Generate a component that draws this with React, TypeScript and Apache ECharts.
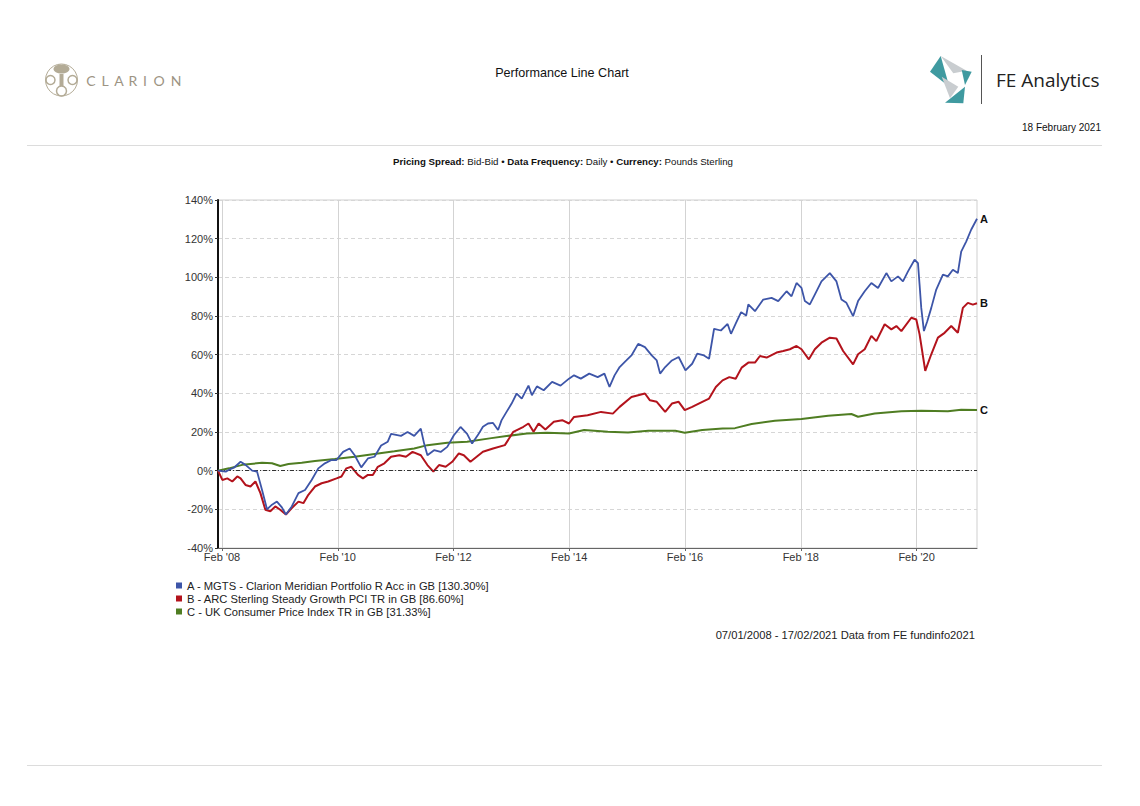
import React, { useEffect, useRef } from 'react';
import * as echarts from 'echarts';

// ---- Data (x = fractional calendar year, y = cumulative % performance) ----
const seriesNames = [
  'A - MGTS - Clarion Meridian Portfolio R Acc in GB [130.30%]',
  'B - ARC Sterling Steady Growth PCI TR in GB [86.60%]',
  'C - UK Consumer Price Index TR in GB [31.33%]',
];
const endTags = ['A', 'B', 'C'];
const seriesColors = ['#3d55a8', '#b3131c', '#4f7d22'];

const aYears = [
  2008.016, 2008.15, 2008.206, 2008.291, 2008.406, 2008.491, 2008.606, 2008.691, 2008.777, 2008.863,
  2008.949, 2009.034, 2009.12, 2009.189, 2009.291, 2009.406, 2009.52, 2009.634, 2009.749, 2009.863,
  2009.977, 2010.063, 2010.177, 2010.291, 2010.377, 2010.491, 2010.606, 2010.72, 2010.834, 2010.949,
  2011.006, 2011.177, 2011.291, 2011.406, 2011.52, 2011.577, 2011.634, 2011.749, 2011.863, 2011.977,
  2012.091, 2012.206, 2012.32, 2012.406, 2012.506, 2012.593, 2012.68, 2012.768, 2012.855, 2012.914,
  2013.001, 2013.089, 2013.176, 2013.264, 2013.38, 2013.439, 2013.526, 2013.643, 2013.788, 2013.934,
  2014.08, 2014.167, 2014.284, 2014.43, 2014.576, 2014.692, 2014.78, 2014.867, 2014.955, 2015.071,
  2015.159, 2015.275, 2015.392, 2015.509, 2015.596, 2015.654, 2015.742, 2015.858, 2015.975, 2016.092,
  2016.208, 2016.296, 2016.412, 2016.5, 2016.587, 2016.704, 2016.82, 2016.879, 2016.96, 2017.054,
  2017.141, 2017.178, 2017.293, 2017.436, 2017.58, 2017.695, 2017.839, 2017.925, 2018.011, 2018.097,
  2018.155, 2018.241, 2018.327, 2018.442, 2018.586, 2018.701, 2018.787, 2018.873, 2018.988, 2019.074,
  2019.189, 2019.304, 2019.419, 2019.563, 2019.649, 2019.764, 2019.85, 2019.937, 2020.051, 2020.109,
  2020.137, 2020.166, 2020.212, 2020.27, 2020.339, 2020.425, 2020.54, 2020.626, 2020.712, 2020.798,
  2020.856, 2020.942, 2021.028, 2021.129,
];
const aValues = [
  0, -0.5, 0.5, 1.5, 4.6, 3, 0, -0.5, -10, -20,
  -17.6, -16, -19, -22.7, -18.5, -11.6, -10, -4.8, 1.2, 3.8,
  5.5, 5.5, 9.7, 11.5, 8, 1.7, 6.3, 7.2, 13, 15,
  19, 18, 20, 18, 21.7, 14, 8, 10.6, 9.7, 12.3,
  18.3, 22.6, 19, 14, 18.4, 22.7, 24.4, 24.7, 21, 26,
  30.4, 34.7, 39.9, 37.3, 44, 39, 43.6, 41.6, 45.9, 44,
  47.6, 49.3, 47.6, 50.2, 48.4, 50.2, 43.3, 49.3, 53.6, 57,
  59.6, 65.6, 63.9, 59.6, 57, 50.2, 53.6, 57, 58.8, 51.9,
  55.3, 60.5, 59.6, 57.9, 73.4, 72.5, 75.9, 70.8, 76, 82,
  80.2, 86, 82.5, 88.5, 89.4, 87.7, 92.8, 90.2, 97.1, 94.5,
  87.7, 86, 91.1, 97.9, 102.2, 97.9, 88.5, 86.8, 79.9, 87.7,
  92.8, 97.1, 94.5, 102.2, 97.9, 100.5, 97.9, 103.1, 109.1, 107.4,
  96.2, 84.2, 72.2, 77.3, 84.2, 93.7, 101.4, 100.5, 103.9, 102.2,
  113.3, 118.5, 124.6, 130.3,
];

const bYears = [
  2008.016, 2008.091, 2008.177, 2008.263, 2008.349, 2008.406, 2008.491, 2008.577, 2008.663, 2008.749,
  2008.834, 2008.92, 2009.006, 2009.091, 2009.189, 2009.291, 2009.406, 2009.491, 2009.577, 2009.691,
  2009.806, 2009.92, 2010.063, 2010.149, 2010.234, 2010.32, 2010.434, 2010.52, 2010.606, 2010.691,
  2010.777, 2010.891, 2011.006, 2011.149, 2011.263, 2011.377, 2011.52, 2011.634, 2011.737, 2011.834,
  2011.949, 2012.063, 2012.177, 2012.263, 2012.377, 2012.593, 2012.768, 2012.972, 2013.118, 2013.293,
  2013.38, 2013.468, 2013.555, 2013.672, 2013.818, 2013.963, 2014.08, 2014.167, 2014.401, 2014.634,
  2014.838, 2014.955, 2015.159, 2015.392, 2015.479, 2015.596, 2015.742, 2015.858, 2015.975, 2016.08,
  2016.208, 2016.383, 2016.5, 2016.617, 2016.733, 2016.85, 2016.96, 2017.063, 2017.178, 2017.293,
  2017.379, 2017.494, 2017.666, 2017.781, 2017.896, 2018.011, 2018.097, 2018.224, 2018.327, 2018.442,
  2018.586, 2018.701, 2018.816, 2018.988, 2019.074, 2019.189, 2019.304, 2019.39, 2019.534, 2019.649,
  2019.736, 2019.822, 2019.994, 2020.08, 2020.137, 2020.235, 2020.339, 2020.454, 2020.569, 2020.684,
  2020.798, 2020.885, 2020.971, 2021.057, 2021.129,
];
const bValues = [
  0, -4.8, -4, -5.6, -3, -4, -7.4, -8.2, -5.6, -11.6,
  -20.2, -21, -18.5, -20.2, -22.7, -19.3, -16, -16.8, -12.5, -8.2,
  -6.5, -5.6, -4, -3, 1.2, 2, -2.2, -4, -2.2, -2.2,
  2, 3.8, 7.2, 8, 7.2, 9.7, 8, 2.9, -0.5, 2.9,
  2, 4.6, 8.9, 8, 4.6, 9.8, 11.5, 13.2, 20.1, 22.7,
  24.4, 20.1, 24.4, 21.3, 25.3, 26.1, 24.4, 27.8, 28.7, 30.4,
  29.5, 33, 38.1, 39.9, 36.4, 35.6, 30.4, 34.7, 35.6, 31.3,
  33, 35.6, 37.3, 43.3, 46.7, 48.4, 47.5, 53.3, 55.9, 55.9,
  59.3, 58.5, 61.1, 61.9, 62.8, 64.5, 62.8, 57.6, 62.8, 66.2,
  68.8, 68.4, 61.9, 55, 60.2, 62.8, 69.7, 67, 75.7, 73.1,
  74.8, 72.2, 79.1, 78.2, 70.5, 51.6, 60.2, 68.8, 71.3, 74.8,
  71.3, 84.2, 86.8, 85.9, 86.6,
];

const cYears = [
  2008.016, 2008.206, 2008.434, 2008.777, 2008.949, 2009.091, 2009.234, 2009.463, 2009.691, 2010.034,
  2010.377, 2010.72, 2011.063, 2011.406, 2011.634, 2011.977, 2012.32, 2012.71, 2013.001, 2013.351,
  2013.701, 2014.08, 2014.342, 2014.751, 2015.1, 2015.45, 2015.917, 2016.08, 2016.383, 2016.733,
  2016.948, 2017.235, 2017.637, 2018.097, 2018.557, 2018.959, 2019.074, 2019.362, 2019.822, 2020.166,
  2020.626, 2020.856, 2021.129,
];
const cValues = [
  0, 1.2, 3, 4.1, 3.8, 2.4, 3.4, 4.1, 5, 6,
  7.2, 8.6, 10, 11.5, 13.2, 14.4, 14.9, 16.7, 17.9, 19.2,
  19.6, 19.2, 21, 20.1, 19.8, 20.6, 20.6, 19.6, 21, 21.8,
  22, 24.1, 25.8, 26.7, 28.4, 29.3, 27.9, 29.6, 30.7, 31,
  30.7, 31.5, 31.33,
];

const startYear = 2008.016; // 07/01/2008
const endYear = 2021.129; // 17/02/2021
const tickYears = [2008, 2010, 2012, 2014, 2016, 2018, 2020];
const febOffset = 0.085;
const yMin = -40;
const yMax = 140;
const yStep = 20;

const FONT = '"Liberation Sans", Arial, sans-serif';

function zip(xs: number[], ys: number[]) {
  return xs.map((x, i) => [x, ys[i]]);
}

const tickValues = tickYears.map((y) => y + febOffset);

function buildOption(): any {
  const dataSets = [zip(aYears, aValues), zip(bYears, bValues), zip(cYears, cValues)];
  const widths = [1.8, 2, 2];
  const series: any[] = dataSets.map((d, i) => ({
    name: seriesNames[i],
    type: 'line',
    data: d,
    showSymbol: false,
    symbol: 'none',
    z: 5 - i,
    lineStyle: { color: seriesColors[i], width: widths[i] },
    itemStyle: { color: seriesColors[i] },
    endLabel: {
      show: true,
      formatter: endTags[i],
      fontFamily: FONT,
      fontSize: 11,
      fontWeight: 'bold',
      color: '#111',
      distance: 3,
    },
  }));
  series.push({
    name: 'zero',
    type: 'line',
    data: [],
    silent: true,
    z: 1,
    markLine: {
      silent: true,
      symbol: ['none', 'none'],
      label: { show: false },
      lineStyle: { color: '#333', width: 1, type: [4, 2, 1, 2] },
      data: [{ yAxis: 0 }],
    },
  });

  const crest = '#b3ab96';
  const teal = '#3f9aa0';
  const grey = '#c9cdd0';

  const clarionLetters = ['C', 'L', 'A', 'R', 'I', 'O', 'N'];
  const clarionX = [91, 105, 119, 133, 145, 159, 176];

  const graphic: any[] = [
    // header rules
    { type: 'line', shape: { x1: 27, y1: 145.5, x2: 1102, y2: 145.5 }, style: { stroke: '#dcdcdc', lineWidth: 1 } },
    { type: 'line', shape: { x1: 27, y1: 765.5, x2: 1102, y2: 765.5 }, style: { stroke: '#dcdcdc', lineWidth: 1 } },
    // Clarion crest
    { type: 'circle', shape: { cx: 61.5, cy: 80, r: 16 }, style: { fill: 'none', stroke: crest, lineWidth: 1 } },
    { type: 'ellipse', shape: { cx: 61.5, cy: 69, rx: 8, ry: 4.5 }, style: { fill: crest } },
    { type: 'circle', shape: { cx: 50.5, cy: 80, r: 4.5 }, style: { fill: 'none', stroke: crest, lineWidth: 1.5 } },
    { type: 'circle', shape: { cx: 72.5, cy: 80, r: 4.5 }, style: { fill: 'none', stroke: crest, lineWidth: 1.5 } },
    { type: 'rect', shape: { x: 59.5, y: 74, width: 4, height: 12 }, style: { fill: crest } },
    { type: 'circle', shape: { cx: 61.5, cy: 91, r: 5 }, style: { fill: 'none', stroke: crest, lineWidth: 1.5 } },
    ...clarionLetters.map((ch, i) => ({
      type: 'text',
      x: clarionX[i],
      y: 80,
      style: {
        text: ch,
        fontFamily: 'Lato, "Open Sans", sans-serif',
        fontSize: 14,
        fill: '#9d9483',
        align: 'center',
        verticalAlign: 'middle',
      },
    })),
    // title
    {
      type: 'text',
      x: 562,
      y: 73,
      style: { text: 'Performance Line Chart', fontFamily: FONT, fontSize: 12.6, fill: '#111', align: 'center', verticalAlign: 'middle' },
    },
    // FE logo
    { type: 'polygon', shape: { points: [[930, 71.7], [940.7, 56], [949.3, 86.7]] }, style: { fill: teal } },
    { type: 'polygon', shape: { points: [[940.7, 56], [966.7, 70.7], [953.3, 73.3]] }, style: { fill: grey } },
    { type: 'polygon', shape: { points: [[961.7, 70], [971.7, 71.7], [965, 85]] }, style: { fill: teal } },
    { type: 'polygon', shape: { points: [[941.7, 76.7], [950, 98.3], [958.3, 86.7]] }, style: { fill: grey } },
    { type: 'polygon', shape: { points: [[945, 102.7], [965, 86.7], [963.3, 103.3]] }, style: { fill: teal } },
    { type: 'line', shape: { x1: 981.5, y1: 55, x2: 981.5, y2: 104 }, style: { stroke: '#555', lineWidth: 1 } },
    {
      type: 'text',
      x: 996,
      y: 80,
      style: { text: 'FE Analytics', fontFamily: '"Open Sans", "Noto Sans", sans-serif', fontSize: 19, fill: '#222', align: 'left', verticalAlign: 'middle' },
    },
    {
      type: 'text',
      x: 1101,
      y: 127,
      style: { text: '18 February 2021', fontFamily: FONT, fontSize: 10, fill: '#111', align: 'right', verticalAlign: 'middle' },
    },
    // subtitle
    {
      type: 'text',
      x: 563,
      y: 161,
      style: {
        text: '{b|Pricing Spread:} Bid-Bid • {b|Data Frequency:} Daily • {b|Currency:} Pounds Sterling',
        fontFamily: FONT,
        fontSize: 9.7,
        fill: '#111',
        align: 'center',
        verticalAlign: 'middle',
        rich: { b: { fontWeight: 'bold', fontFamily: FONT, fontSize: 9.7, fill: '#111' } },
      },
    },
    // footer
    {
      type: 'text',
      x: 975,
      y: 635,
      style: { text: '07/01/2008 - 17/02/2021 Data from FE fundinfo2021', fontFamily: FONT, fontSize: 11.2, fill: '#222', align: 'right', verticalAlign: 'middle' },
    },
  ];

  return {
    animation: false,
    backgroundColor: '#ffffff',
    textStyle: { fontFamily: FONT },
    grid: { left: 218, right: 163, top: 200, bottom: 258, show: true, borderColor: '#cfcfcf', borderWidth: 1 },
    legend: {
      orient: 'vertical',
      left: 171,
      top: 574,
      icon: 'rect',
      itemWidth: 6,
      itemHeight: 6,
      itemGap: 0,
      data: seriesNames,
      textStyle: { fontFamily: FONT, fontSize: 11.2, color: '#222', lineHeight: 13 },
      selectedMode: false,
    },
    xAxis: {
      type: 'value',
      min: startYear,
      max: endYear,
      axisLine: { show: true, onZero: false, lineStyle: { color: '#666', width: 1 } },
      axisTick: { show: true, length: 3, customValues: tickValues, lineStyle: { color: '#666' } },
      axisLabel: {
        customValues: tickValues,
        formatter: (v: number) => "Feb '" + String(Math.round(v - febOffset)).slice(2),
        fontFamily: FONT,
        fontSize: 11,
        color: '#333',
        margin: 3,
      },
      splitLine: { show: true, lineStyle: { color: '#d3d3d3', width: 1, type: 'solid' } },
    },
    yAxis: {
      type: 'value',
      min: yMin,
      max: yMax,
      interval: yStep,
      axisLine: { show: true, onZero: false, lineStyle: { color: '#111', width: 2 } },
      axisTick: { show: true, length: 3, lineStyle: { color: '#333' } },
      axisLabel: { formatter: '{value}%', fontFamily: FONT, fontSize: 11, color: '#333', margin: 5 },
      splitLine: { show: true, lineStyle: { color: '#d6d6d6', width: 1, type: [4, 3] } },
    },
    series,
    graphic,
  };
}

export default function App() {
  const ref = useRef<HTMLDivElement>(null);
  useEffect(() => {
    document.body.style.margin = '0';
    const chart = echarts.init(ref.current as HTMLDivElement, null, { renderer: 'svg' });
    chart.setOption(buildOption());
    return () => {
      chart.dispose();
    };
  }, []);
  return <div ref={ref} style={{ width: 1140, height: 806 }} />;
}
